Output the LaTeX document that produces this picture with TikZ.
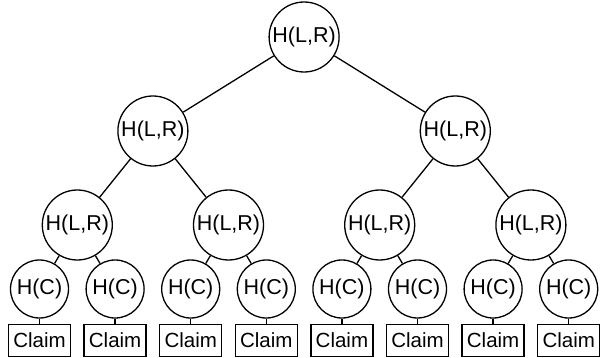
\documentclass[tikz,border=0pt]{standalone}
\usepackage{fontspec}
\setmainfont{Liberation Sans}
\usepackage{tikz}
\usetikzlibrary{shapes,positioning}

\begin{document}
\begin{tikzpicture}[
    x=1pt,
    y=-1pt,
    line width=1.3pt,
    hash/.style={draw,circle,fill=white,inner sep=0pt,minimum size=70pt,font=\fontsize{21.5}{24}\selectfont},
    leafhash/.style={draw,circle,fill=white,inner sep=0pt,minimum size=58pt,font=\fontsize{21.5}{24}\selectfont},
    claim/.style={draw,rectangle,fill=white,inner sep=0pt,minimum width=62pt,minimum height=32pt,font=\fontsize{20.5}{22}\selectfont}
    ]
    \useasboundingbox (0,0) rectangle (600,358);

    \node[hash] (h1) at (304.1, 37) {H(L,R)};

    \node[hash] (h2) at (152.9,131) {H(L,R)};
    \node[hash] (h3) at (455.3,131) {H(L,R)};

    \node[hash] (h4) at ( 77.3,225) {H(L,R)};
    \node[hash] (h5) at (228.5,225) {H(L,R)};
    \node[hash] (h6) at (379.7,225) {H(L,R)};
    \node[hash] (h7) at (530.9,225) {H(L,R)};

    \node[leafhash] (c1) at ( 39.5,289) {H(C)};
    \node[leafhash] (c2) at (115.1,289) {H(C)};
    \node[leafhash] (c3) at (190.7,289) {H(C)};
    \node[leafhash] (c4) at (266.3,289) {H(C)};
    \node[leafhash] (c5) at (341.9,289) {H(C)};
    \node[leafhash] (c6) at (417.5,289) {H(C)};
    \node[leafhash] (c7) at (493.1,289) {H(C)};
    \node[leafhash] (c8) at (568.7,289) {H(C)};

    \node[claim] (cl1) at ( 39.5,340.5) {Claim};
    \node[claim] (cl2) at (115.1,340.5) {Claim};
    \node[claim] (cl3) at (190.7,340.5) {Claim};
    \node[claim] (cl4) at (266.3,340.5) {Claim};
    \node[claim] (cl5) at (341.9,340.5) {Claim};
    \node[claim] (cl6) at (417.5,340.5) {Claim};
    \node[claim] (cl7) at (493.1,340.5) {Claim};
    \node[claim] (cl8) at (568.7,340.5) {Claim};

    % root
    \draw (h1) -- (h2);
    \draw (h1) -- (h3);
    % second level
    \draw (h2) -- (h4);
    \draw (h2) -- (h5);
    \draw (h3) -- (h6);
    \draw (h3) -- (h7);
    % third level
    \draw (h4) -- (c1);
    \draw (h4) -- (c2);
    \draw (h5) -- (c3);
    \draw (h5) -- (c4);
    \draw (h6) -- (c5);
    \draw (h6) -- (c6);
    \draw (h7) -- (c7);
    \draw (h7) -- (c8);
    % claims
    \draw (c1) -- (cl1);
    \draw (c2) -- (cl2);
    \draw (c3) -- (cl3);
    \draw (c4) -- (cl4);
    \draw (c5) -- (cl5);
    \draw (c6) -- (cl6);
    \draw (c7) -- (cl7);
    \draw (c8) -- (cl8);
  \end{tikzpicture}
\end{document}
